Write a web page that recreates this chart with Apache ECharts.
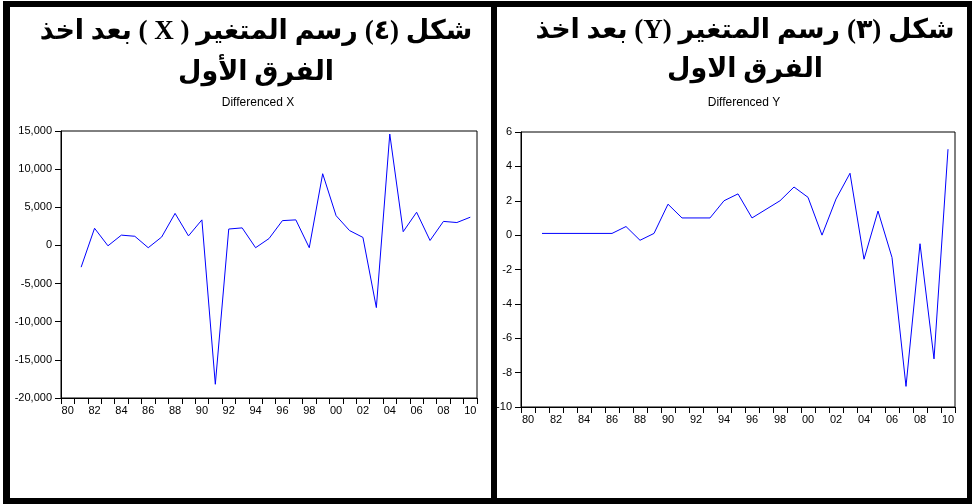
<!DOCTYPE html>
<html>
<head>
<meta charset="utf-8">
<script src="https://cdn.jsdelivr.net/npm/echarts@6/dist/echarts.min.js"></script>
<style>
  html, body { margin: 0; padding: 0; background: #fff; }
  #chart { width: 972px; height: 504px; }
</style>
</head>
<body>
<div id="chart"></div>
<script>
// Categories (years 1980..2010, two-digit labels)
const years = ['80','81','82','83','84','85','86','87','88','89','90','91','92','93','94','95','96','97','98','99','00','01','02','03','04','05','06','07','08','09','10'];
// Differenced X (first year has no difference)
const diffX = [null, -2850, 2250, -50, 1350, 1200, -300, 1100, 4200, 1250, 3350, -18200, 2150, 2300, -300, 900, 3250, 3350, -300, 9400, 3900, 1950, 1050, -8150, 14600, 1800, 4350, 650, 3150, 3000, 3700];
// Differenced Y
const diffY = [null, 0.1, 0.1, 0.1, 0.1, 0.1, 0.1, 0.5, -0.3, 0.1, 1.8, 1.0, 1.0, 1.0, 2.0, 2.4, 1.0, 1.5, 2.0, 2.8, 2.2, 0.0, 2.1, 3.6, -1.4, 1.4, -1.3, -8.8, -0.5, -7.2, 5.0];
// Titles
const titleLeft = ['شكل (٤) رسم المتغير ( X ) بعد اخذ', 'الفرق الأول'];
const titleRight = ['شكل (٣) رسم المتغير (Y) بعد اخذ', 'الفرق الاول'];
const subLeft = 'Differenced X';
const subRight = 'Differenced Y';

const rtl = lines => lines.map(s => '\u202B' + s + '\u202C').join('\n');

const chart = echarts.init(document.getElementById('chart'), null, { renderer: 'canvas' });

const titleFont = "'Liberation Serif', 'DejaVu Sans', serif";
const axisFont = "'Liberation Sans', Arial, sans-serif";

function xAxis(gridIndex) {
  return {
    type: 'category', gridIndex, data: years, boundaryGap: true,
    axisLine: { show: true, onZero: false, lineStyle: { color: '#000', width: 1 } },
    axisTick: { show: true, interval: 0, length: 6, lineStyle: { color: '#000' } },
    axisLabel: { interval: 1, color: '#000', fontSize: 11, fontFamily: axisFont, margin: 7 },
    splitLine: { show: false }
  };
}
function yAxis(gridIndex, min, max, interval, fmt) {
  return {
    type: 'value', gridIndex, min, max, interval,
    axisLine: { show: true, onZero: false, lineStyle: { color: '#000', width: 1 } },
    axisTick: { show: true, length: 6, lineStyle: { color: '#000' } },
    axisLabel: { color: '#000', fontSize: 11, fontFamily: axisFont, margin: 9, formatter: fmt },
    splitLine: { show: false }
  };
}

const option = {
  backgroundColor: '#fff',
  animation: false,
  title: [
    { text: rtl(titleLeft), left: 251, top: 7, textAlign: 'center',
      textStyle: { fontSize: 27, fontWeight: 'bold', fontFamily: titleFont, color: '#000', lineHeight: 41 } },
    { text: rtl(titleRight), left: 740, top: 7, textAlign: 'center',
      textStyle: { fontSize: 27, fontWeight: 'bold', fontFamily: titleFont, color: '#000', lineHeight: 39 } },
    { text: subLeft, left: 253, top: 91, textAlign: 'center',
      textStyle: { fontSize: 12, fontWeight: 'normal', fontFamily: axisFont, color: '#000', lineHeight: 14 } },
    { text: subRight, left: 739, top: 91, textAlign: 'center',
      textStyle: { fontSize: 12, fontWeight: 'normal', fontFamily: axisFont, color: '#000', lineHeight: 14 } }
  ],
  grid: [
    { left: 61, top: 131, width: 416, height: 267, show: true, borderColor: '#000', borderWidth: 1, backgroundColor: 'transparent' },
    { left: 521, top: 132, width: 434, height: 275, show: true, borderColor: '#000', borderWidth: 1, backgroundColor: 'transparent' }
  ],
  xAxis: [xAxis(0), xAxis(1)],
  yAxis: [
    yAxis(0, -20000, 15000, 5000, v => v.toLocaleString('en-US')),
    yAxis(1, -10, 6, 2, v => String(v))
  ],
  series: [
    { type: 'line', xAxisIndex: 0, yAxisIndex: 0, data: diffX, showSymbol: false, symbol: 'none',
      lineStyle: { color: '#0000ff', width: 1 }, itemStyle: { color: '#0000ff' } },
    { type: 'line', xAxisIndex: 1, yAxisIndex: 1, data: diffY, showSymbol: false, symbol: 'none',
      lineStyle: { color: '#0000ff', width: 1 }, itemStyle: { color: '#0000ff' } }
  ],
  graphic: [
    { type: 'rect', z: 100, shape: { x: 3, y: 1, width: 969, height: 6 }, style: { fill: '#000' } },
    { type: 'rect', z: 100, shape: { x: 3, y: 498, width: 969, height: 6 }, style: { fill: '#000' } },
    { type: 'rect', z: 100, shape: { x: 3, y: 1, width: 7, height: 503 }, style: { fill: '#000' } },
    { type: 'rect', z: 100, shape: { x: 491, y: 1, width: 6, height: 503 }, style: { fill: '#000' } },
    { type: 'rect', z: 100, shape: { x: 967, y: 1, width: 5, height: 503 }, style: { fill: '#000' } }
  ]
};
chart.setOption(option);
</script>
</body>
</html>
